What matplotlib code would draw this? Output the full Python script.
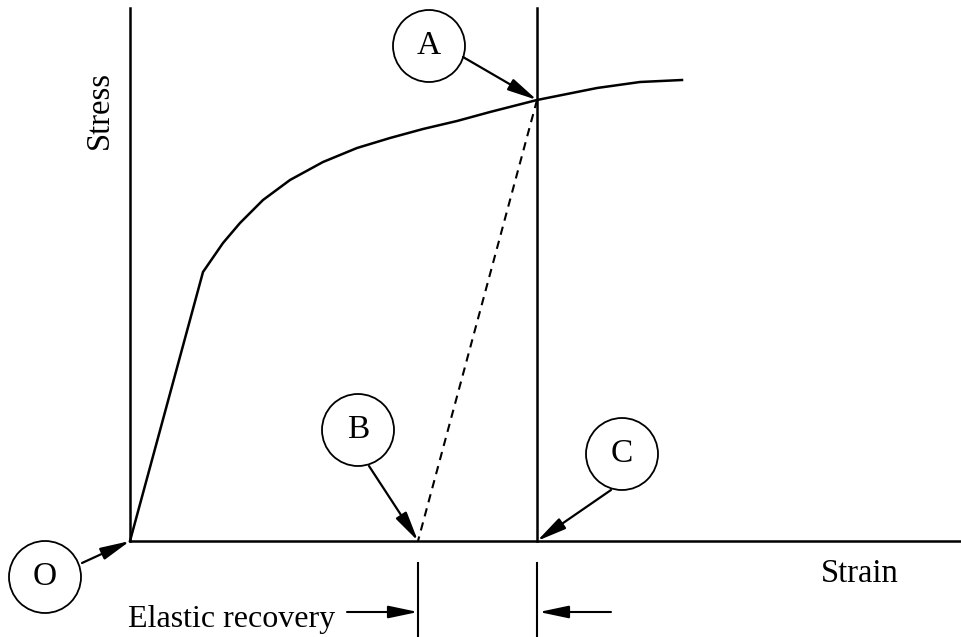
import matplotlib
matplotlib.use("Agg")
from matplotlib import pyplot as plt
from matplotlib.patches import Circle

# loading curve (strain, stress)
strain = [0, 73, 93, 110, 133, 160, 193, 227, 260, 293, 327, 360, 407, 467, 510, 552]
stress = [0, 269, 298, 318, 341, 361, 379, 393, 403, 412, 420, 429, 441, 453, 459, 461]

point_a = (407, 441)    # unloading starts here
point_b = (288, 0)      # permanent set after unloading
point_c = (407, 0)      # total strain at A
axis_top = 533
axis_right = 831

labels = ['O', 'A', 'B', 'C']
# circle centres and where each arrow starts
circle_xy = [(-85, -36), (299, 495), (228, 111), (492, 87)]
arrow_to = [(0, 0), point_a, point_b, point_c]
arrow_from = [(-48, -22), (333, 484), (239, 75), (481, 51)]

plt.rcParams['font.family'] = ['Liberation Serif', 'DejaVu Serif']

fig = plt.figure(figsize=(9.61, 6.37), dpi=100)
ax = fig.add_axes([0, 0, 1, 1])
ax.set_xlim(-130, 831)
ax.set_ylim(-96, 541)
ax.axis('off')

lw = 1.8
head = '-|>,head_length=1.8,head_width=0.38'
# axes
ax.plot([0, 0], [0, axis_top], color='black', lw=lw)
ax.plot([0, axis_right], [0, 0], color='black', lw=lw)
# curve
ax.plot(strain, stress, color='black', lw=lw)
# vertical at A
ax.plot([point_a[0], point_a[0]], [0, axis_top], color='black', lw=lw)
# elastic unloading
ax.plot([point_a[0], point_b[0]], [point_a[1], point_b[1]], color='black', lw=1.5, ls=(0, (4, 3)))

for lab, cxy, p_from, p_to in zip(labels, circle_xy, arrow_from, arrow_to):
    ax.add_patch(Circle(cxy, 36, fill=False, ec='black', lw=1.3))
    ax.text(cxy[0], cxy[1], lab, ha='center', va='center', fontsize=24)
    ax.annotate('', xy=p_to, xytext=p_from,
                arrowprops=dict(arrowstyle=head, color='black', lw=1.6,
                                shrinkA=0, shrinkB=0))

# dimension marks for elastic recovery
for xx in [point_b[0], point_c[0]]:
    ax.plot([xx, xx], [-22, -96], color='black', lw=1.5)
ax.annotate('', xy=(point_b[0], -71), xytext=(217, -71),
            arrowprops=dict(arrowstyle=head, color='black', lw=1.5, shrinkA=0, shrinkB=0))
ax.annotate('', xy=(point_c[0] + 2, -71), xytext=(481, -71),
            arrowprops=dict(arrowstyle=head, color='black', lw=1.5, shrinkA=0, shrinkB=0))

ax.text(-2, -86, 'Elastic recovery', ha='left', va='baseline', fontsize=23)
ax.text(730, -41, 'Strain', ha='center', va='baseline', fontsize=23.5)
ax.text(-30, 431, 'Stress', ha='center', va='center', rotation=90, fontsize=23.5)

fig.savefig('out.png', dpi=100)
